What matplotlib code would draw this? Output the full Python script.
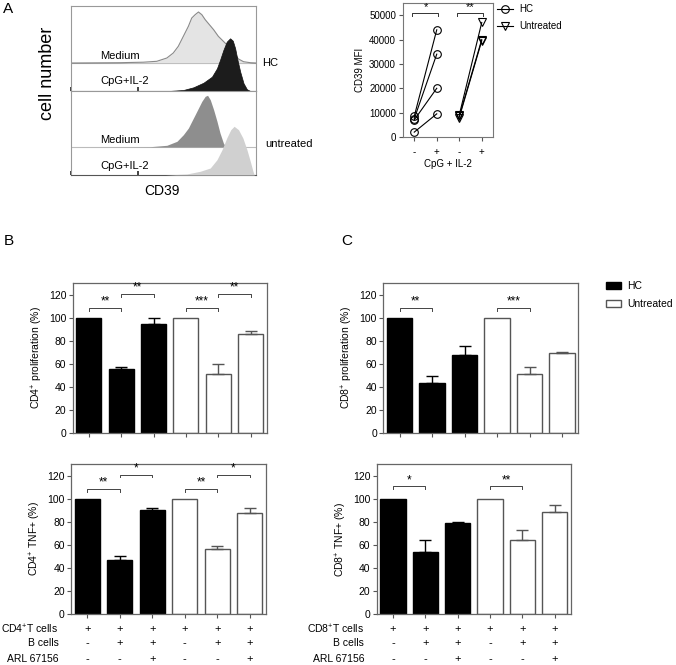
import numpy as np
import matplotlib
matplotlib.use("Agg")
import matplotlib.pyplot as plt
from matplotlib.ticker import LogLocator, NullFormatter
from matplotlib.patches import Patch
from matplotlib.lines import Line2D

plt.rcParams['font.family'] = ['Liberation Sans', 'DejaVu Sans']
plt.rcParams['mathtext.fontset'] = 'custom'
plt.rcParams['mathtext.rm'] = 'Liberation Sans'
plt.rcParams['mathtext.it'] = 'Liberation Sans:italic'
plt.rcParams['mathtext.bf'] = 'Liberation Sans:bold'

# ---------------- data ----------------
# Panel A histograms (log10 CD39 intensity, cell count)
hc_medium_log = [0.0, 1.46, 2.15, 2.55, 2.85, 3.04, 3.19, 3.34, 3.49, 3.59, 3.69, 3.79, 3.89, 3.99,
                 4.09, 4.24, 4.38, 4.53, 4.68, 4.83, 4.98, 5.13, 5.33, 5.51]
hc_medium_cnt = [0, 0.3, 0.8, 1.7, 5, 10, 16.7, 26.7, 36.7, 45, 48.3, 51, 48.3, 43.3,
                 39.3, 33.3, 26.7, 21.7, 16.7, 10, 4, 1.3, 0.3, 0]
hc_cpg_log = [2.9, 3.34, 3.64, 3.94, 4.19, 4.34, 4.43, 4.53, 4.63, 4.73, 4.81, 4.88, 4.95, 5.03,
              5.13, 5.23, 5.33]
hc_cpg_cnt = [0, 1, 3.7, 8.3, 14.3, 22.7, 31, 41, 49.3, 52.7, 50.3, 42.7, 31, 19.3, 7.7, 1.7, 0]
un_medium_log = [0.0, 1.5, 2.35, 2.85, 3.15, 3.34, 3.49, 3.59, 3.69, 3.79, 3.89, 3.99, 4.06, 4.14,
                 4.24, 4.34, 4.43, 4.53, 4.60]
un_medium_cnt = [0, 0.1, 0.3, 1.7, 5.7, 12.3, 19, 25.7, 32.3, 39, 45.7, 50.7, 51.7, 47.3,
                 37.3, 25.7, 14, 4, 0]
un_cpg_log = [2.8, 3.44, 3.84, 4.14, 4.34, 4.49, 4.63, 4.75, 4.85, 4.98, 5.11, 5.23, 5.33, 5.41, 5.45]
un_cpg_cnt = [0, 1, 3.7, 7, 15.3, 25.3, 37, 45.3, 48.7, 45.3, 37, 25.3, 13.7, 3.7, 0]

# Panel A MFI
mfi_hc_minus = [8500, 7500, 7000, 2000]
mfi_hc_plus = [44000, 34000, 20000, 9500]
mfi_un_minus = [9000, 8500, 8000]
mfi_un_plus = [47000, 40000, 39500]
mfi_ticklabels = ['-', '+', '-', '+']
mfi_sigs = [(0, 1, 51000, '*'), (2, 3, 51000, '**')]

# Panels B / C
groups = ['HC', 'HC', 'HC', 'Untreated', 'Untreated', 'Untreated']
cd4_prolif = [100, 55, 95, 100, 51, 86]
cd4_prolif_sem = [0, 1.8, 5, 0, 8.4, 2.6]
cd8_prolif = [100, 43.4, 67.9, 100, 50.9, 69.7]
cd8_prolif_sem = [0, 6, 7.3, 0, 6.4, 0.6]
cd4_tnf = [100, 47.2, 89.8, 100, 56.4, 87.5]
cd4_tnf_sem = [0, 2.9, 1.7, 0, 2.6, 4.6]
cd8_tnf = [100, 53.8, 78.6, 100, 64.5, 88.3]
cd8_tnf_sem = [0, 10.4, 1.4, 0, 8.6, 6.7]

cd4_prolif_sig = [(0, 1, 108.7, '**'), (1, 2, 120.9, '**'), (3, 4, 108.7, '***'), (4, 5, 120.9, '**')]
cd8_prolif_sig = [(0, 1, 108.7, '**'), (3, 4, 108.7, '***')]
cd4_tnf_sig = [(0, 1, 108.5, '**'), (1, 2, 120.9, '*'), (3, 4, 108.5, '**'), (4, 5, 120.9, '*')]
cd8_tnf_sig = [(0, 1, 110.8, '*'), (3, 4, 110.8, '**')]

row_t_cells = ['+', '+', '+', '+', '+', '+']
row_b_cells = ['-', '+', '+', '-', '+', '+']
row_arl = ['-', '-', '+', '-', '-', '+']

# ---------------- figure ----------------
W, H = 676, 665
fig = plt.figure(figsize=(W / 100, H / 100), dpi=100)


def ax_px(l, t, r, b):
    return fig.add_axes([l / W, 1 - b / H, (r - l) / W, (b - t) / H])


def ftext(x, y, s, **kw):
    fig.text(x / W, 1 - y / H, s, **kw)


# ---- Panel A: histograms ----
ax_h1 = ax_px(71, 6, 256, 91)
ax_h2 = ax_px(71, 91, 256, 175)
for ax, ymax in ((ax_h1, 85), (ax_h2, 84)):
    ax.set_xscale('log')
    ax.set_xlim(1, 10 ** 5.5)
    ax.set_ylim(0, ymax)
    ax.set_yticks([])
    ax.xaxis.set_major_locator(LogLocator(base=10))
    ax.xaxis.set_minor_locator(LogLocator(base=10, subs=np.arange(2, 10)))
    ax.xaxis.set_major_formatter(NullFormatter())
    ax.xaxis.set_minor_formatter(NullFormatter())
    ax.tick_params(axis='x', which='major', direction='in', length=3, width=1.2, color='#222222')
    ax.tick_params(axis='x', which='minor', direction='in', length=1.5, width=0.6, color='#444444')
    for s in ax.spines.values():
        s.set_color('#999999')
        s.set_linewidth(0.8)
    ax.spines['bottom'].set_color('#555555')

off = 28
# HC
x = 10 ** np.array(hc_medium_log)
y = np.array(hc_medium_cnt) + off
ax_h1.axhline(off, color='#9a9a9a', lw=0.8, zorder=1)
ax_h1.fill_between(x, off, y, color='#e4e4e4', lw=0, zorder=1)
ax_h1.plot(x, y, color='#8a8a8a', lw=0.8, zorder=2)
x = 10 ** np.array(hc_cpg_log)
ax_h1.fill_between(x, 0, hc_cpg_cnt, color='#1c1c1c', lw=0.5, edgecolor='#111111', zorder=3)
# Untreated
x = 10 ** np.array(un_medium_log)
y = np.array(un_medium_cnt) + off
ax_h2.axhline(off, color='#bdbdbd', lw=0.8, zorder=1)
ax_h2.fill_between(x, off, y, color='#8e8e8e', lw=0, zorder=1)
x = 10 ** np.array(un_cpg_log)
ax_h2.fill_between(x, 0, un_cpg_cnt, color='#d0d0d0', lw=0, zorder=3)

ftext(100, 56, 'Medium', fontsize=8, va='center', ha='left')
ftext(100, 81, 'CpG+IL-2', fontsize=8, va='center', ha='left')
ftext(100, 140, 'Medium', fontsize=8, va='center', ha='left')
ftext(100, 166, 'CpG+IL-2', fontsize=8, va='center', ha='left')
ftext(262, 63, 'HC', fontsize=8, va='center', ha='left')
ftext(265, 144, 'untreated', fontsize=8, va='center', ha='left')
ftext(48, 73, 'cell number', fontsize=13, rotation=90, va='center', ha='center')
ftext(162, 191, 'CD39', fontsize=10, va='center', ha='center')

# ---- Panel A: MFI ----
axm = ax_px(403, 3, 493, 137)
for i in range(len(mfi_hc_minus)):
    axm.plot([0, 1], [mfi_hc_minus[i], mfi_hc_plus[i]], color='black', lw=0.8,
             marker='o', ms=5.5, mfc='none', mec='black', mew=0.8)
for i in range(len(mfi_un_minus)):
    axm.plot([2, 3], [mfi_un_minus[i], mfi_un_plus[i]], color='black', lw=0.8,
             marker='v', ms=5.5, mfc='none', mec='black', mew=0.8)
axm.set_xlim(-0.5, 3.5)
axm.set_ylim(0, 55000)
axm.set_yticks(np.arange(0, 50001, 10000))
axm.set_xticks(range(4))
axm.set_xticklabels(mfi_ticklabels)
axm.tick_params(axis='both', labelsize=7, length=3, width=0.8, color='#555555', pad=2)
axm.tick_params(axis='x', pad=4)
for s in axm.spines.values():
    s.set_color('#777777')
    s.set_linewidth(0.8)
axm.set_ylabel('CD39 MFI', fontsize=7, labelpad=3)
axm.set_xlabel('CpG + IL-2', fontsize=7, labelpad=2)
dt = 1300
for a, b, h, lab in mfi_sigs:
    axm.plot([a - 0.1, a - 0.1, b + 0.05, b + 0.05], [h - dt, h, h, h - dt], color='#333333', lw=0.7)
    axm.text((a + b) / 2, h + 200, lab, fontsize=8, ha='center', va='bottom')
mh = [Line2D([], [], color='black', lw=0.8, marker='o', ms=5.5, mfc='none', mew=0.8),
      Line2D([], [], color='black', lw=0.8, marker='v', ms=5.5, mfc='none', mew=0.8)]
fig.legend(mh, ['HC', 'Untreated'], loc='upper left', bbox_to_anchor=(497 / W, 1 - 4 / H),
           frameon=False, fontsize=7, handlelength=1.6, handletextpad=0.7,
           borderpad=0, borderaxespad=0, labelspacing=0.75)


# ---- Panels B & C ----
def bar_panel(box, vals, sems, sigs, ylabel, table_first=None):
    ax = ax_px(*box)
    xs = np.arange(len(vals))
    faces = ['black' if g == 'HC' else 'white' for g in groups]
    edges = ['black' if g == 'HC' else '#555555' for g in groups]
    ax.bar(xs, vals, width=0.78, color=faces, edgecolor=edges, linewidth=1.0, zorder=2)
    for i in xs:
        if sems[i] > 0:
            ax.errorbar(xs[i], vals[i], yerr=[[0], [sems[i]]], fmt='none', ecolor=edges[i],
                        elinewidth=1.0, capsize=4.5, capthick=1.0, zorder=3)
    ax.set_xlim(-0.5, len(vals) - 0.5)
    ax.set_ylim(0, 130)
    ax.set_yticks(np.arange(0, 121, 20))
    ax.set_xticks(xs)
    ax.set_xticklabels([])
    ax.tick_params(axis='both', labelsize=7.5, length=3, width=0.8, color='#555555', pad=1.5)
    for s in ax.spines.values():
        s.set_color('#666666')
        s.set_linewidth(0.9)
    ax.set_ylabel(ylabel, fontsize=7.5, labelpad=3)
    for a, b, h, lab in sigs:
        ax.plot([a, a, b, b], [h - 2.5, h, h, h - 2.5], color='#444444', lw=0.7)
        ax.text((a + b) / 2, h + 0.3, lab, fontsize=8.5, ha='center', va='bottom')
    if table_first is not None:
        rows = [(table_first, row_t_cells, 11), ('B cells', row_b_cells, 21), ('ARL 67156', row_arl, 32.5)]
        for lab, signs, dy in rows:
            ax.annotate(lab, xy=(0, 0), xycoords='axes fraction', xytext=(-9, -dy),
                        textcoords='offset points', ha='right', va='center', fontsize=7.5)
            for i, sg in enumerate(signs):
                ax.annotate(sg, xy=(i, 0), xycoords=('data', 'axes fraction'), xytext=(0, -dy),
                            textcoords='offset points', ha='center', va='center', fontsize=8)
    return ax


bar_panel((72.7, 283.3, 266.7, 432.7), cd4_prolif, cd4_prolif_sem, cd4_prolif_sig,
          r'$\mathregular{CD4^{+}}$ proliferation (%)')
bar_panel((383.3, 283.3, 578.3, 432.7), cd8_prolif, cd8_prolif_sem, cd8_prolif_sig,
          r'$\mathregular{CD8^{+}}$ proliferation (%)')
bar_panel((71, 464, 266, 614), cd4_tnf, cd4_tnf_sem, cd4_tnf_sig,
          r'$\mathregular{CD4^{+}}$ TNF+ (%)', table_first=r'$\mathregular{CD4^{+}T}$ cells')
bar_panel((376.7, 464.3, 571, 614), cd8_tnf, cd8_tnf_sem, cd8_tnf_sig,
          r'$\mathregular{CD8^{+}}$ TNF+ (%)', table_first=r'$\mathregular{CD8^{+}T}$ cells')

lh = [Patch(facecolor='black', edgecolor='black', lw=1.0),
      Patch(facecolor='white', edgecolor='#555555', lw=1.0)]
fig.legend(lh, ['HC', 'Untreated'], loc='upper left', bbox_to_anchor=(606 / W, 1 - 281 / H),
           frameon=False, fontsize=7.5, handlelength=1.4, handleheight=0.65, handletextpad=0.6,
           borderpad=0, borderaxespad=0, labelspacing=0.75)

ftext(3, 2, 'A', fontsize=11, va='top', ha='left')
ftext(4, 234, 'B', fontsize=11, va='top', ha='left')
ftext(341, 234, 'C', fontsize=11, va='top', ha='left')

fig.savefig('out.png', dpi=100)
